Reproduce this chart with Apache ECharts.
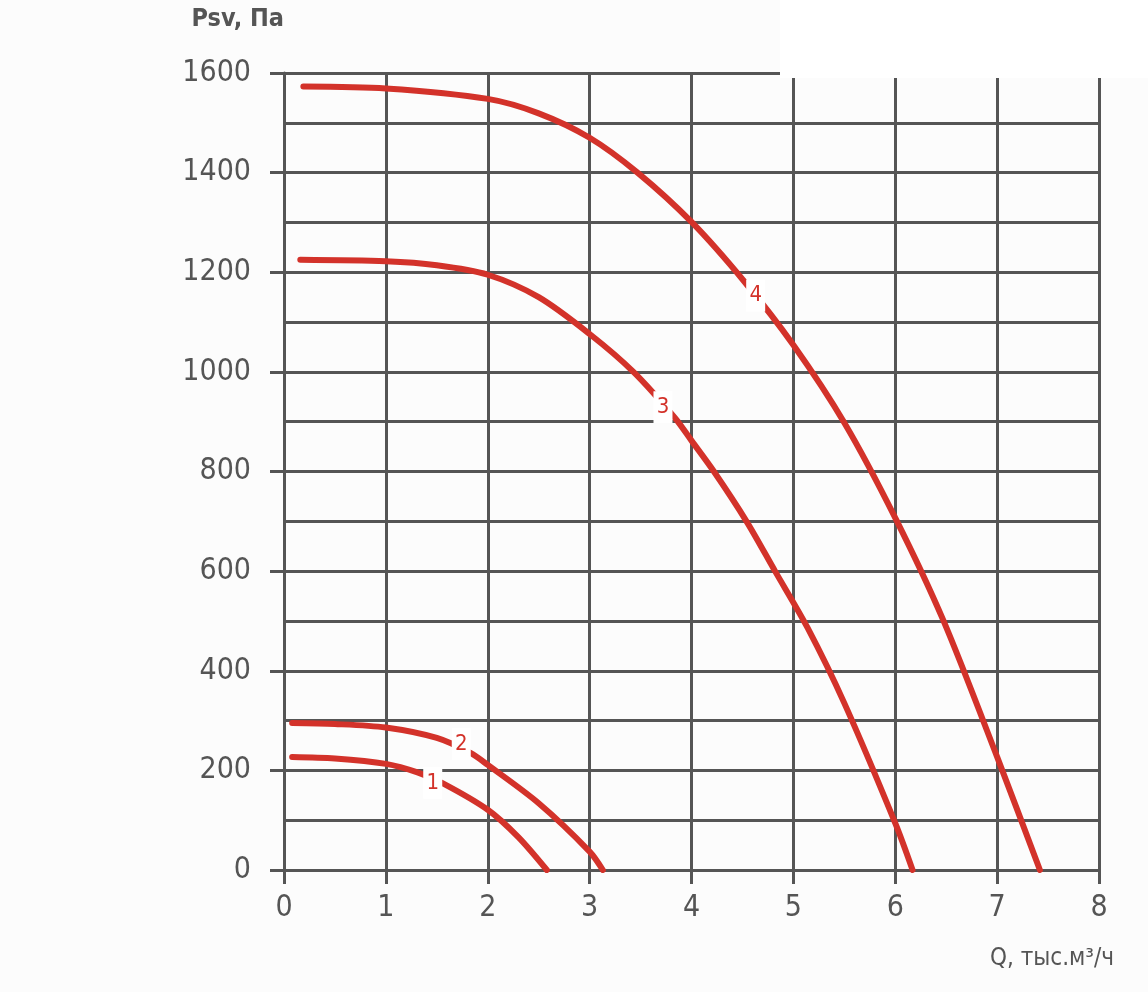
<!DOCTYPE html>
<html>
<head>
<meta charset="utf-8">
<script src="https://cdn.jsdelivr.net/npm/echarts@6/dist/echarts.min.js"></script>
<style>
html,body{margin:0;padding:0;background:#fcfcfc;}
#chart{width:1148px;height:992px;}
</style>
</head>
<body>
<div id="chart"></div>
<script>
// Curve 1
const q1 = [0.08, 0.5, 1.0, 1.31, 1.56, 2.0, 2.3, 2.58];
const p1 = [227, 224, 213, 196, 174, 121, 66, 0];
// Curve 2
const q2 = [0.08, 0.5, 1.0, 1.5, 1.83, 2.0, 2.5, 3.0, 3.13];
const p2 = [295, 293, 286, 265, 235, 211, 134, 37, 0];
// Curve 3
const q3 = [0.16, 1.0, 1.5, 2.0, 2.5, 3.0, 3.43, 3.84, 4.0, 4.22, 4.54, 4.82, 5.14, 5.5, 6.0, 6.17];
const p3 = [1225, 1222, 1214, 1195, 1150, 1076, 1000, 907, 862, 800, 700, 600, 486, 335, 94, 0];
// Curve 4
const q4 = [0.19, 1.0, 2.0, 2.5, 3.0, 3.47, 4.0, 4.52, 5.0, 5.5, 6.0, 6.47, 7.0, 7.42];
const p4 = [1573, 1569, 1548, 1519, 1470, 1400, 1301, 1181, 1054, 898, 707, 502, 227, 0];
// Curve labels
const curveNames = ['1', '2', '3', '4'];
const labelQ = [1.46, 1.74, 3.72, 4.63];
const labelP = [175, 253, 929, 1153];

const yAxisName = 'Psv, Па';
const xAxisName = 'Q, тыс.м³/ч';

const FONT = '"Liberation Sans Narrow", "DejaVu Sans Condensed", "Roboto", sans-serif';
const GRID = '#555555';
const RED = '#d3322a';

function pairs(q, p) { return q.map((v, i) => [v, p[i]]); }

const curves = [[q1, p1], [q2, p2], [q3, p3], [q4, p4]];

const series = curves.map((c, i) => ({
  type: 'line',
  name: curveNames[i],
  data: pairs(c[0], c[1]),
  smooth: 0.3,
  showSymbol: false,
  symbol: 'none',
  z: 3,
  lineStyle: { color: RED, width: 6, cap: 'round', join: 'round' },
  silent: true
}));

series.push({
  type: 'scatter',
  data: labelQ.map((q, i) => ({ value: [q, labelP[i]], name: curveNames[i] })),
  symbol: 'rect',
  symbolSize: [19, 32],
  itemStyle: { color: '#ffffff', opacity: 1 },
  z: 10,
  silent: true,
  label: {
    show: true,
    position: 'inside',
    formatter: p => p.name,
    color: RED,
    fontFamily: FONT,
    fontSize: 22
  }
});

const chart = echarts.init(document.getElementById('chart'), null, { renderer: 'canvas' });
chart.setOption({
  backgroundColor: '#fcfcfc',
  animation: false,
  grid: { left: 284, right: 49, top: 73, bottom: 122, containLabel: false },
  xAxis: {
    type: 'value',
    min: 0, max: 8, interval: 1,
    axisLine: { show: true, onZero: false, lineStyle: { color: GRID, width: 3 } },
    axisTick: { show: true, length: 14, lineStyle: { color: GRID, width: 3 } },
    axisLabel: { color: '#555555', fontFamily: FONT, fontSize: 30, margin: 23, formatter: v => String(v) },
    splitLine: { show: true, lineStyle: { color: GRID, width: 3 } }
  },
  yAxis: {
    type: 'value',
    min: 0, max: 1600, interval: 200,
    name: yAxisName,
    nameLocation: 'end',
    nameGap: 54,
    nameTextStyle: { color: '#555555', fontFamily: FONT, fontSize: 25, fontWeight: 'bold', align: 'right', verticalAlign: 'middle' },
    axisLine: { show: true, onZero: false, lineStyle: { color: GRID, width: 3 } },
    axisTick: { show: true, length: 14, lineStyle: { color: GRID, width: 3 } },
    axisLabel: { color: '#555555', fontFamily: FONT, fontSize: 30, margin: 33, formatter: v => String(v) },
    splitLine: { show: true, lineStyle: { color: GRID, width: 3 } },
    minorTick: { show: false, splitNumber: 2 },
    minorSplitLine: { show: true, lineStyle: { color: GRID, width: 3 } }
  },
  graphic: [
    { type: 'rect', z: 100, shape: { x: 780, y: 0, width: 368, height: 78 }, style: { fill: '#ffffff' }, silent: true },
    { type: 'text', z: 100, left: 990, top: 947, style: { text: xAxisName, fill: '#555555', font: '24px ' + FONT } }
  ],
  series: series
});
</script>
</body>
</html>
